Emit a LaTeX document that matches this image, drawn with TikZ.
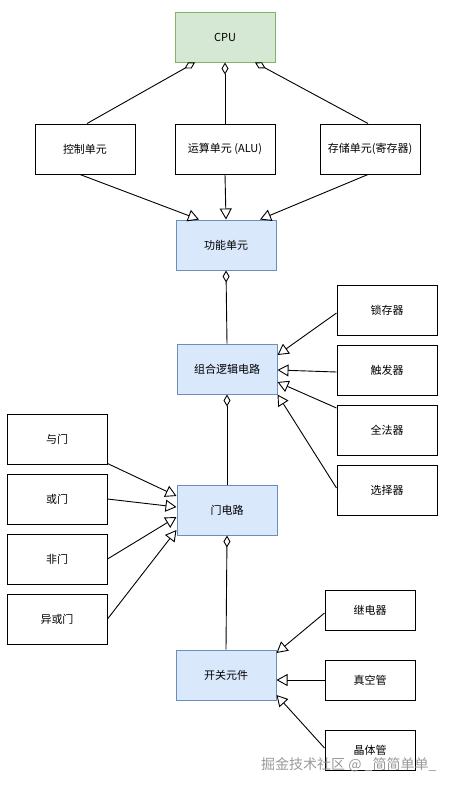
\documentclass[tikz,border=0pt]{standalone}
\usepackage{fontspec}
\setmainfont{Noto Sans CJK SC}
\usetikzlibrary{arrows.meta}
\definecolor{greenfill}{HTML}{D5E8D4}
\definecolor{greenline}{HTML}{82B366}
\definecolor{bluefill}{HTML}{DAE8FC}
\definecolor{blueline}{HTML}{6C8EBF}
\definecolor{wmgray}{HTML}{9A9A9A}
\tikzset{
  box/.style={draw=black, line width=1pt, fill=white, minimum width=100pt, minimum height=50pt, inner sep=0pt, font=\fontsize{11}{13}\selectfont},
  smallbox/.style={box, minimum width=90pt, minimum height=40pt},
  greenbox/.style={box, draw=greenline, fill=greenfill},
  bluebox/.style={box, draw=blueline, fill=bluefill},
  agg/.style={line width=0.9pt, {Diamond[open, length=12pt, width=7pt]}-},
  inh/.style={line width=0.9pt, -{Triangle[open, length=11pt, width=12pt]}},
}
\begin{document}
\begin{tikzpicture}[x=1pt, y=1pt]
\useasboundingbox (0,0) rectangle (449,-788);
\fill[white] (0,0) rectangle (449,-788);
% nodes
\node[greenbox] (cpu) at (225,-37) {CPU};
\node[box] (ctrl) at (85,-149) {控制单元};
\node[box] (alu) at (225,-149) {运算单元 (ALU)};
\node[box] (store) at (370,-149) {存储单元(寄存器)};
\node[bluebox] (func) at (226,-245) {功能单元};
\node[box] (latch) at (387,-310) {锁存器};
\node[bluebox] (comb) at (227,-369) {组合逻辑电路};
\node[box] (flip) at (387,-370) {触发器};
\node[box] (adder) at (387,-430) {全法器};
\node[box] (mux) at (387,-490) {选择器};
\node[box] (andg) at (57,-439) {与门};
\node[box] (org) at (57,-499) {或门};
\node[box] (notg) at (57,-559) {非门};
\node[box] (xorg) at (57,-619) {异或门};
\node[bluebox] (gate) at (227,-510) {门电路};
\node[smallbox] (relay) at (370,-610) {继电器};
\node[bluebox] (switch) at (226,-675) {开关元件};
\node[smallbox] (vacuum) at (370,-680) {真空管};
\node[smallbox] (trans) at (370,-750) {晶体管};
% CPU aggregation
\draw[agg] ([xshift=-30pt]cpu.south) -- ([xshift=2pt]ctrl.north);
\draw[agg] (cpu.south) -- (alu.north);
\draw[agg] ([xshift=30pt]cpu.south) -- ([xshift=-2pt]store.north);
% to func
\draw[inh] ([xshift=-5pt]ctrl.south) -- ([xshift=-27pt]func.north);
\draw[inh] (alu.south) -- (func.north);
\draw[inh] ([xshift=-2pt]store.south) -- ([xshift=34pt]func.north);
% func - comb
\draw[agg] (func.south) -- (comb.north);
% to comb
\draw[inh] ([yshift=-3pt]latch.west) -- ([yshift=14pt]comb.east);
\draw[inh] ([yshift=-2pt]flip.west) -- ([yshift=-1pt]comb.east);
\draw[inh] ([yshift=22pt]adder.west) -- ([yshift=-13pt]comb.east);
\draw[inh] ([yshift=2pt]mux.west) -- (comb.south east);
% comb - gate
\draw[agg] (comb.south) -- (gate.north);
% to gate
\draw[inh] ([yshift=1pt]andg.south east) -- ([yshift=14pt]gate.west);
\draw[inh] (org.east) -- ([yshift=3pt]gate.west);
\draw[inh] (notg.east) -- ([yshift=-7pt]gate.west);
\draw[inh] (xorg.east) -- ([yshift=-20pt]gate.west);
% gate - switch
\draw[agg] (gate.south) -- (switch.north);
% to switch
\draw[inh] ([yshift=-3pt]relay.west) -- ([yshift=22pt]switch.east);
\draw[inh] (vacuum.west) -- ([yshift=-5pt]switch.east);
\draw[inh] ([yshift=2pt]trans.west) -- ([yshift=-20pt]switch.east);
% watermark
\node[text=wmgray, font=\fontsize{14}{16}\selectfont, anchor=west, inner sep=0pt] (wm) at (261,-765) {掘金技术社区 @ \_简简单单\_};
\end{tikzpicture}
\end{document}
